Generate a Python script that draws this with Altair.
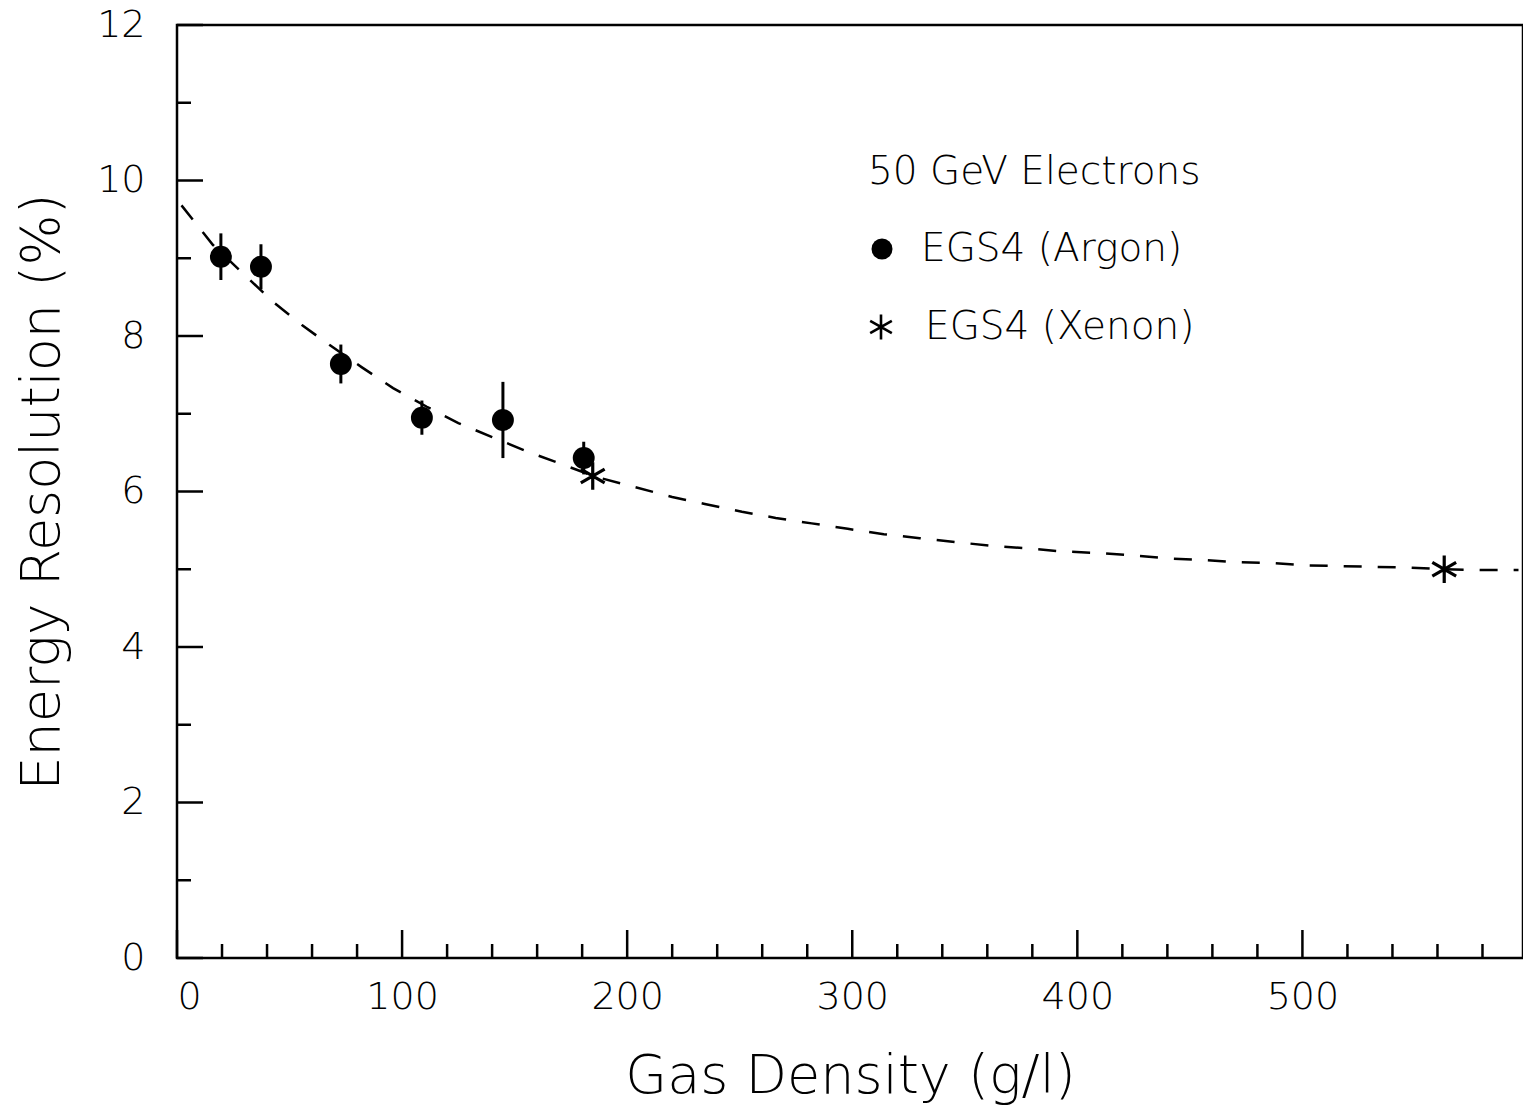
import altair as alt
import pandas as pd

# ---------------- data ----------------
argon_density = [19.5, 37.3, 72.8, 108.8, 144.8, 180.7]
argon_res = [9.02, 8.89, 7.64, 6.95, 6.92, 6.43]
argon_err = [0.30, 0.29, 0.25, 0.22, 0.49, 0.21]

xenon_density = [184.7, 563.0]
xenon_res = [6.20, 5.00]

fit_density = [2, 7.5, 16, 31, 42.6, 55.5, 68, 82, 96, 111, 125, 140, 156, 172,
               186, 203, 220, 234.5, 251, 266, 282, 298, 314, 330, 346, 362, 377,
               393, 408.5, 424, 440, 455, 471, 486, 502, 517, 533, 548, 563, 580, 596]
fit_res = [9.68, 9.48, 9.17, 8.76, 8.44, 8.14, 7.88, 7.60, 7.33, 7.09, 6.88, 6.70,
           6.51, 6.34, 6.19, 6.06, 5.93, 5.84, 5.74, 5.66, 5.59, 5.52, 5.45, 5.40,
           5.35, 5.30, 5.27, 5.23, 5.21, 5.18, 5.14, 5.12, 5.09, 5.08, 5.05, 5.04,
           5.03, 5.02, 5.00, 4.99, 4.99]

x_major = [0, 100, 200, 300, 400, 500]
x_minor = [20, 40, 60, 80, 120, 140, 160, 180, 220, 240, 260, 280, 320, 340, 360,
           380, 420, 440, 460, 480, 520, 540, 560, 580]
y_major = [0, 2, 4, 6, 8, 10, 12]
y_minor = [1, 3, 5, 7, 9, 11]

x_title = "Gas Density (g/l)"
y_title = "Energy Resolution (%)"
legend_title = "50 GeV Electrons"
legend_labels = ["EGS4 (Argon)", "EGS4 (Xenon)"]

# ---------------- chart ----------------
W, H = 1346, 933
FONT = "DejaVu Sans"
FW = 200
X_DOMAIN = [0, 598]
Y_DOMAIN = [0, 12]
STAR = "M0,-1L0,1M-0.87,-0.5L0.87,0.5M-0.87,0.5L0.87,-0.5"

xs = alt.Scale(domain=X_DOMAIN, nice=False, zero=False)
ys = alt.Scale(domain=Y_DOMAIN, nice=False, zero=False)

argon = pd.DataFrame({
    "d": argon_density,
    "r": argon_res,
    "lo": [r - e for r, e in zip(argon_res, argon_err)],
    "hi": [r + e for r, e in zip(argon_res, argon_err)],
})
xenon = pd.DataFrame({"d": xenon_density, "r": xenon_res})
fit = pd.DataFrame({"d": fit_density, "r": fit_res})

base_x = alt.X("d:Q", scale=xs, axis=alt.Axis(
    values=x_major, ticks=False, domain=False, grid=False, format="d",
    labelFontSize=38, labelFont=FONT, labelFontWeight=FW, labelPadding=20,
    labelColor="black",
    title=x_title, titleFont=FONT, titleFontSize=54, titleFontWeight=FW,
    titlePadding=33, titleColor="black"))
base_y = alt.Y("r:Q", scale=ys, axis=alt.Axis(
    values=y_major, ticks=False, domain=False, grid=False, format="d",
    labelFontSize=38, labelFont=FONT, labelFontWeight=FW, labelPadding=32,
    labelColor="black",
    title=y_title, titleFont=FONT, titleFontSize=54, titleFontWeight=FW,
    titlePadding=27, titleColor="black"))

curve = alt.Chart(fit).mark_line(
    color="black", strokeWidth=2.5, strokeDash=[18, 16]
).encode(x=base_x, y=base_y)

errbars = alt.Chart(argon).mark_rule(color="black", strokeWidth=3).encode(
    x=alt.X("d:Q", scale=xs), y=alt.Y("lo:Q", scale=ys), y2="hi:Q")

argon_pts = alt.Chart(argon).mark_point(
    shape="circle", filled=True, color="black", size=480, opacity=1
).encode(x=alt.X("d:Q", scale=xs), y=alt.Y("r:Q", scale=ys))

xenon_pts = alt.Chart(xenon).mark_point(
    shape=STAR, filled=False, color="black", size=750, strokeWidth=3.2, opacity=1
).encode(x=alt.X("d:Q", scale=xs), y=alt.Y("r:Q", scale=ys))

# inward ticks
xmaj = alt.Chart(pd.DataFrame({"v": x_major})).mark_rule(color="black", strokeWidth=2.5).encode(
    x=alt.X("v:Q", scale=xs), y=alt.value(H), y2=alt.value(H - 28))
xmin = alt.Chart(pd.DataFrame({"v": x_minor})).mark_rule(color="black", strokeWidth=2.5).encode(
    x=alt.X("v:Q", scale=xs), y=alt.value(H), y2=alt.value(H - 14))
ymaj = alt.Chart(pd.DataFrame({"v": y_major})).mark_rule(color="black", strokeWidth=2.5).encode(
    y=alt.Y("v:Q", scale=ys), x=alt.value(0), x2=alt.value(26))
ymin = alt.Chart(pd.DataFrame({"v": y_minor})).mark_rule(color="black", strokeWidth=2.5).encode(
    y=alt.Y("v:Q", scale=ys), x=alt.value(0), x2=alt.value(14))

# legend (annotation placed in plot pixels)
def leg_text(t, x, y):
    return alt.Chart(pd.DataFrame({"t": [t]})).mark_text(
        font=FONT, fontSize=39, fontWeight=FW, align="left", baseline="middle",
        color="black"
    ).encode(text="t:N", x=alt.value(x), y=alt.value(y))

leg_title = leg_text(legend_title, 691, 147)
leg_ar_txt = leg_text(legend_labels[0], 744, 224)
leg_xe_txt = leg_text(legend_labels[1], 748, 302)
leg_ar_sym = alt.Chart(pd.DataFrame({"t": [legend_labels[0]]})).mark_point(
    shape="circle", filled=True, color="black", size=440, opacity=1
).encode(x=alt.value(705), y=alt.value(224))
leg_xe_sym = alt.Chart(pd.DataFrame({"t": [legend_labels[1]]})).mark_point(
    shape=STAR, filled=False, color="black", size=620, strokeWidth=2.6, opacity=1
).encode(x=alt.value(704), y=alt.value(302))

chart = alt.layer(
    curve, errbars, argon_pts, xenon_pts, xmaj, xmin, ymaj, ymin,
    leg_title, leg_ar_txt, leg_xe_txt, leg_ar_sym, leg_xe_sym
).properties(
    width=W, height=H,
    autosize=alt.AutoSizeParams(type="none"),
    padding={"left": 169, "top": 17, "right": 0, "bottom": 149},
    background="white",
).configure_view(
    stroke="black", strokeWidth=2.5
)

chart.save("out.html", embed_options={"renderer": "svg", "actions": False})
